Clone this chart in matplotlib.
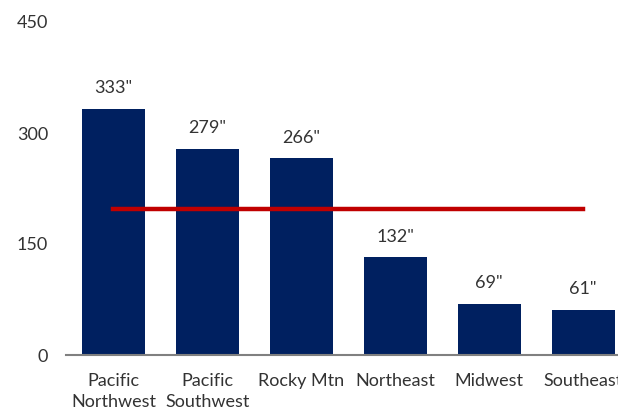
import matplotlib
matplotlib.use("Agg")
import matplotlib.pyplot as plt

regions = ["Pacific\nNorthwest", "Pacific\nSouthwest", "Rocky Mtn", "Northeast", "Midwest", "Southeast"]
snowfall = [333, 279, 266, 132, 69, 61]
average = 197
yticks = [0, 150, 300, 450]

plt.rcParams['font.family'] = ['Lato', 'DejaVu Sans']

fig = plt.figure(figsize=(6.18, 4.13), dpi=100)
ax = fig.add_axes([66 / 618, 58 / 413, 564 / 618, 333 / 413])

x = list(range(len(regions)))
ax.bar(x, snowfall, width=0.67, color="#002060", zorder=2)
ax.plot([x[0], x[-1]], [average, average], color="#C00000", linewidth=3.2, zorder=3)

for xi, v in zip(x, snowfall):
    ax.text(xi, v + 17, f'{v}"', ha="center", va="bottom", fontsize=13, color="#333333")

ax.set_xlim(-0.505, 5.5)
ax.set_ylim(0, 450)
ax.set_yticks(yticks)
ax.set_xticks(x)
ax.set_xticklabels(regions, fontsize=13, color="#333333", linespacing=1.4)
ax.tick_params(axis="both", length=0, labelsize=13, colors="#333333")
ax.tick_params(axis="y", pad=13)
ax.tick_params(axis="x", pad=13)

for s in ["top", "right", "left"]:
    ax.spines[s].set_visible(False)
ax.spines["bottom"].set_color("#808080")
ax.spines["bottom"].set_linewidth(1.5)

fig.savefig("out.png", dpi=100)
